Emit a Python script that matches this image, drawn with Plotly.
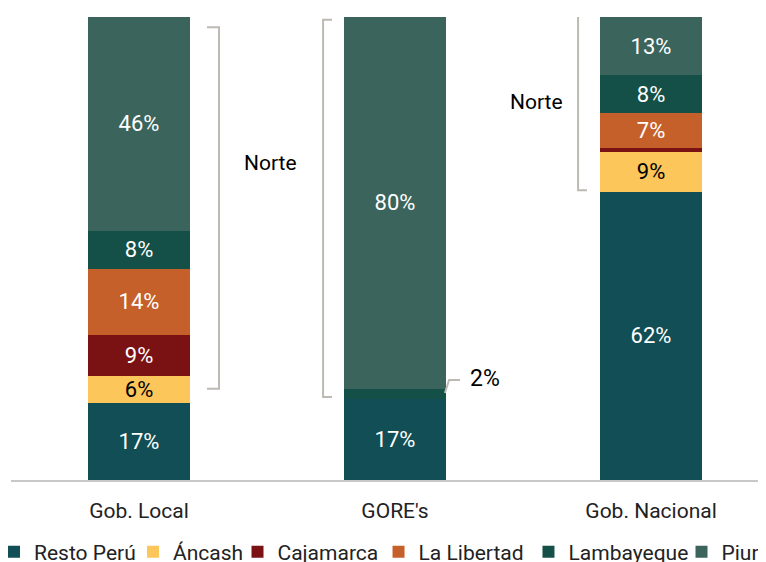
import plotly.graph_objects as go

categories = ["Gob. Local", "GORE's", "Gob. Nacional"]
series_names = ["Resto Perú", "Áncash", "Cajamarca", "La Libertad", "Lambayeque", "Piura"]
resto_peru = [16.6, 17.4, 62.3]
ancash = [5.8, 0.0, 8.6]
cajamarca = [8.9, 0.0, 0.9]
la_libertad = [14.3, 0.0, 7.4]
lambayeque = [8.2, 2.3, 8.2]
piura = [46.2, 80.3, 12.6]

series_values = [resto_peru, ancash, cajamarca, la_libertad, lambayeque, piura]
colors = ["#114E55", "#FCC65A", "#7A1214", "#C6602A", "#145047", "#3A645C"]
text_colors = ["white", "black", "white", "white", "white", "white"]
legend_x = [-0.0225, 0.1616, 0.3000, 0.4868, 0.6854, 0.8881]

FONT = "Roboto"
x_pos = list(range(len(categories)))

fig = go.Figure()
for i, (name, vals, col, tcol) in enumerate(zip(series_names, series_values, colors, text_colors)):
    labels = [f"{round(v)}%" if v >= 5 else "" for v in vals]
    fig.add_trace(go.Bar(
        x=x_pos, y=vals, name=name, marker=dict(color=col, line=dict(width=0)),
        width=0.4, text=labels, textposition="inside", insidetextanchor="middle",
        textangle=0, textfont=dict(family=FONT, size=22, color=tcol),
        hoverinfo="name+y",
        legend="legend" if i == 0 else f"legend{i + 1}",
    ))

bracket_col = "#BDB9B3"
brackets = [
    "M 0.2656,97.8 L 0.3125,97.8 L 0.3125,19.7 L 0.2656,19.7",
    "M 0.754,99.4 L 0.719,99.4 L 0.719,17.9 L 0.754,17.9",
    "M 1.75,100.4 L 1.715,100.4 L 1.715,62.6 L 1.75,62.6",
    "M 1.195,18.8 L 1.211,21.6 L 1.254,21.6",
]
for p in brackets:
    fig.add_shape(type="path", path=p, xref="x", yref="y",
                  line=dict(color=bracket_col, width=2))

fig.add_annotation(x=0.512, y=68.5, text="Norte", showarrow=False,
                   font=dict(family=FONT, size=21, color="black"))
fig.add_annotation(x=1.551, y=81.6, text="Norte", showarrow=False,
                   font=dict(family=FONT, size=21, color="black"))
fig.add_annotation(x=1.352, y=22.0, text="2%", showarrow=False,
                   font=dict(family=FONT, size=23, color="black"))

legend_common = dict(orientation="h", xanchor="left", y=-0.1555, yanchor="middle",
                     font=dict(family=FONT, size=21, color="#222222"),
                     itemclick=False, itemwidth=30, bgcolor="rgba(0,0,0,0)")
legends = {}
for i, lx in enumerate(legend_x):
    key = "legend" if i == 0 else f"legend{i + 1}"
    legends[key] = dict(legend_common, x=lx)

fig.update_layout(
    width=758, height=554,
    margin=dict(l=3, r=0, t=9, b=82, autoexpand=False),
    barmode="stack",
    plot_bgcolor="white", paper_bgcolor="white",
    uniformtext=dict(minsize=22, mode="show"),
    showlegend=True,
    font=dict(family=FONT),
    **legends,
)
fig.update_xaxes(range=[-0.5, 2.449], tickvals=x_pos, ticktext=categories,
                 showline=True, linecolor="#C8C8C8", linewidth=1.5,
                 showgrid=False, zeroline=False, ticks="",
                 tickfont=dict(family=FONT, size=21, color="#222222"),
                 ticklabelstandoff=11)
fig.update_yaxes(range=[0, 100], visible=False, showgrid=False, zeroline=False)

fig.write_html("out.html")
